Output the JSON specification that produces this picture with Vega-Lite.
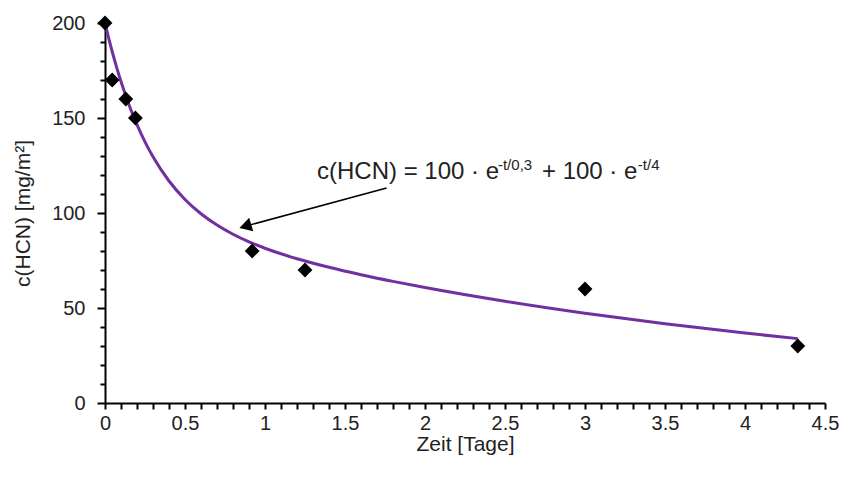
{
  "$schema": "https://vega.github.io/schema/vega-lite/v6.json",
  "autosize": "none",
  "width": 720,
  "height": 380,
  "padding": {"left": 105, "top": 23, "right": 37, "bottom": 75},
  "background": "white",
  "config": {
    "view": {"stroke": null},
    "font": "Liberation Sans",
    "axis": {
      "domainColor": "black",
      "domainWidth": 2,
      "tickColor": "black",
      "tickWidth": 2,
      "grid": false,
      "labelFont": "Liberation Sans",
      "labelFontSize": 20,
      "labelColor": "#222222",
      "labelOverlap": false,
      "labelFlush": false,
      "titleFont": "Liberation Sans",
      "titleFontSize": 21,
      "titleFontWeight": "normal",
      "titleColor": "#222222"
    }
  },
  "datasets": {
    "messung": [
      {"t": 0, "c": 200},
      {"t": 0.045, "c": 170},
      {"t": 0.13, "c": 160},
      {"t": 0.19, "c": 150},
      {"t": 0.92, "c": 80},
      {"t": 1.25, "c": 70},
      {"t": 3.0, "c": 60},
      {"t": 4.33, "c": 30}
    ],
    "modell": [
      {"t": 0, "c": 200},
      {"t": 0.025, "c": 191.38},
      {"t": 0.05, "c": 183.41},
      {"t": 0.075, "c": 176.02},
      {"t": 0.1, "c": 169.18},
      {"t": 0.15, "c": 156.97},
      {"t": 0.2, "c": 146.47},
      {"t": 0.25, "c": 137.4},
      {"t": 0.3, "c": 129.56},
      {"t": 0.4, "c": 116.84},
      {"t": 0.5, "c": 107.14},
      {"t": 0.6, "c": 99.61},
      {"t": 0.7, "c": 93.64},
      {"t": 0.8, "c": 88.82},
      {"t": 0.9, "c": 84.83},
      {"t": 1.0, "c": 81.45},
      {"t": 1.2, "c": 75.91},
      {"t": 1.4, "c": 71.41},
      {"t": 1.6, "c": 67.52},
      {"t": 1.8, "c": 64.01},
      {"t": 2.0, "c": 60.78},
      {"t": 2.5, "c": 53.55},
      {"t": 3.0, "c": 47.24},
      {"t": 3.5, "c": 41.69},
      {"t": 4.0, "c": 36.79},
      {"t": 4.33, "c": 33.88}
    ],
    "pfeil": [
      {"t": 1.76, "c": 113.2, "t2": 0.88, "c2": 93.1}
    ],
    "spitze": [
      {"t": 0.877, "c": 93.0}
    ],
    "formel": [
      {"t": 1.325, "c": 117.9, "text": "c(HCN) = 100 · e"},
      {"t": 2.731, "c": 117.9, "text": "+ 100 · e"}
    ],
    "hoch": [
      {"t": 2.456, "c": 122.6, "text": "-t/0,3"},
      {"t": 3.33, "c": 122.6, "text": "-t/4"}
    ]
  },
  "layer": [
    {
      "data": {"name": "modell"},
      "mark": {"type": "line", "color": "#7030A0", "strokeWidth": 3, "interpolate": "monotone"},
      "encoding": {
        "x": {
          "field": "t", "type": "quantitative",
          "scale": {"domain": [0, 4.5], "nice": false},
          "axis": {
            "title": "Zeit [Tage]",
            "titlePadding": 0,
            "tickCount": 100,
            "values": [0,0.1,0.2,0.3,0.4,0.5,0.6,0.7,0.8,0.9,1,1.1,1.2,1.3,1.4,1.5,1.6,1.7,1.8,1.9,2,2.1,2.2,2.3,2.4,2.5,2.6,2.7,2.8,2.9,3,3.1,3.2,3.3,3.4,3.5,3.6,3.7,3.8,3.9,4,4.1,4.2,4.3,4.4,4.5],
            "labelExpr": "abs(datum.value*2 - round(datum.value*2)) < 0.001 ? format(datum.value, '~g') : ''",
            "tickSize": 6,
            "labelPadding": 4
          }
        },
        "y": {
          "field": "c", "type": "quantitative",
          "scale": {"domain": [0, 200], "nice": false},
          "axis": {
            "title": "c(HCN) [mg/m²]",
            "titlePadding": 18,
            "tickCount": 100,
            "values": [0,10,20,30,40,50,60,70,80,90,100,110,120,130,140,150,160,170,180,190,200],
            "labelExpr": "datum.value % 50 === 0 ? datum.label : ''",
            "tickSize": {"condition": {"test": "datum.value % 50 === 0", "value": 8}, "value": 5},
            "labelPadding": 12
          }
        }
      }
    },
    {
      "data": {"name": "messung"},
      "mark": {"type": "point", "shape": "diamond", "filled": true, "color": "black", "size": 220, "opacity": 1},
      "encoding": {
        "x": {"field": "t", "type": "quantitative"},
        "y": {"field": "c", "type": "quantitative"}
      }
    },
    {
      "data": {"name": "pfeil"},
      "mark": {"type": "rule", "color": "black", "strokeWidth": 1.5},
      "encoding": {
        "x": {"field": "t", "type": "quantitative"},
        "y": {"field": "c", "type": "quantitative"},
        "x2": {"field": "t2"},
        "y2": {"field": "c2"}
      }
    },
    {
      "data": {"name": "spitze"},
      "mark": {"type": "point", "shape": "triangle-up", "filled": true, "color": "black", "size": 200, "angle": 253.5, "opacity": 1},
      "encoding": {
        "x": {"field": "t", "type": "quantitative"},
        "y": {"field": "c", "type": "quantitative"}
      }
    },
    {
      "data": {"name": "formel"},
      "mark": {"type": "text", "align": "left", "baseline": "alphabetic", "fontSize": 24, "color": "#222222", "font": "Liberation Sans"},
      "encoding": {
        "x": {"field": "t", "type": "quantitative"},
        "y": {"field": "c", "type": "quantitative"},
        "text": {"field": "text"}
      }
    },
    {
      "data": {"name": "hoch"},
      "mark": {"type": "text", "align": "left", "baseline": "alphabetic", "fontSize": 15, "color": "#222222", "font": "Liberation Sans"},
      "encoding": {
        "x": {"field": "t", "type": "quantitative"},
        "y": {"field": "c", "type": "quantitative"},
        "text": {"field": "text"}
      }
    }
  ]
}
